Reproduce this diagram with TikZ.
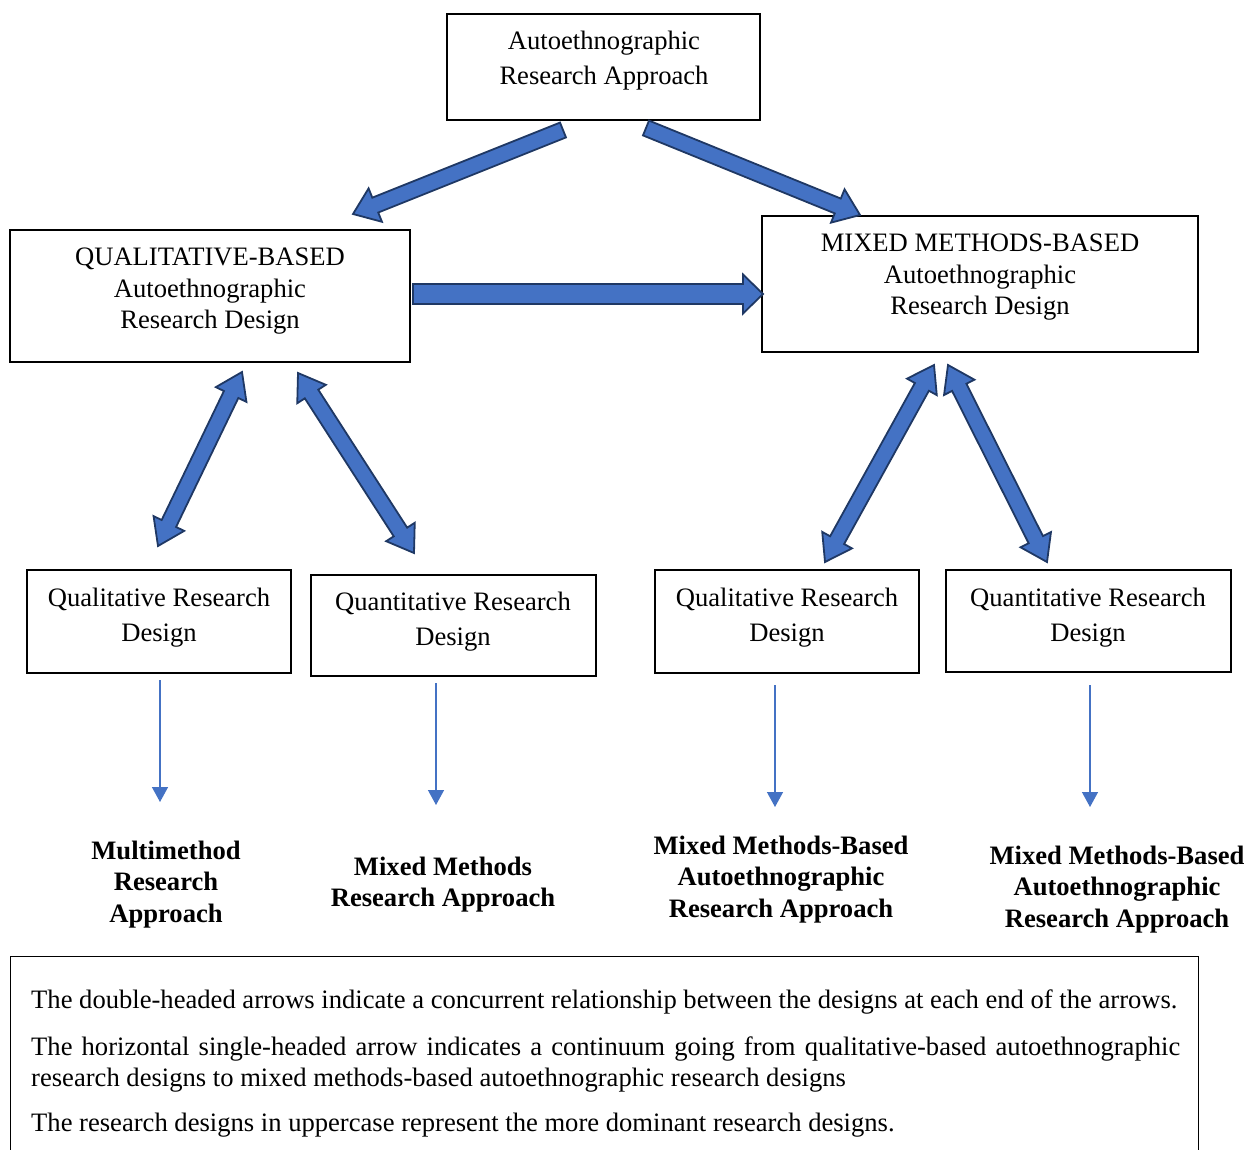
\documentclass[tikz,border=0pt]{standalone}
\usepackage{fontspec}
\setmainfont{Liberation Serif}
\usetikzlibrary{calc,arrows.meta}

\definecolor{blockfill}{RGB}{68,114,196}
\definecolor{blockedge}{RGB}{31,56,100}
\definecolor{thinblue}{RGB}{68,114,196}

\tikzset{
  box/.style={draw=black, line width=1.1pt, inner sep=0pt, fill=white},
  txt/.style={align=center, inner sep=0pt, font=\fontsize{26.6}{35}\selectfont},
  tighttxt/.style={align=center, inner sep=0pt, font=\fontsize{26.6}{31.5}\selectfont},
  boldtxt/.style={align=center, inner sep=0pt, font=\fontsize{26.6}{31.5}\selectfont\bfseries},
  legendtxt/.style={inner sep=0pt, font=\fontsize{26.6}{31}\selectfont},
  blockshape/.style={fill=blockfill, draw=blockedge, line width=1.8pt, line join=miter},
  thinarrow/.style={draw=thinblue, line width=1.4pt, -{Triangle[width=16pt,length=15pt]}},
}

% single-headed block arrow: from, to, shaft half width, head half width, head length
\newcommand{\singleblock}[5]{%
  \coordinate (hb) at ($(#2)!#5!(#1)$);
  \path[blockshape]
    ($(#1)!#3!90:(#2)$) -- ($(hb)!#3!90:(#2)$) -- ($(hb)!#4!90:(#2)$) -- (#2)
    -- ($(hb)!#4!-90:(#2)$) -- ($(hb)!#3!-90:(#2)$) -- ($(#1)!#3!-90:(#2)$) -- cycle;
}
% double-headed block arrow: end, end, shaft half width, head half width, head length
\newcommand{\doubleblock}[5]{%
  \coordinate (ha) at ($(#1)!#5!(#2)$);
  \coordinate (hb) at ($(#2)!#5!(#1)$);
  \path[blockshape]
    (#1) -- ($(ha)!#4!90:(#2)$) -- ($(ha)!#3!90:(#2)$) -- ($(hb)!#3!90:(#2)$)
    -- ($(hb)!#4!90:(#2)$) -- (#2) -- ($(hb)!#4!-90:(#2)$) -- ($(hb)!#3!-90:(#2)$)
    -- ($(ha)!#3!-90:(#2)$) -- ($(ha)!#4!-90:(#2)$) -- cycle;
}

\begin{document}
\begin{tikzpicture}[x=1pt, y=-1pt]
  \clip (0,0) rectangle (1260,1149);
  \useasboundingbox (0,0) rectangle (1260,1149);

  % boxes
  \node[box, minimum width=313pt, minimum height=106pt] (top) at (603.5,67) {};
  \node[txt] (toptext) at (604,61) {Autoethnographic\\Research Approach};

  \node[box, minimum width=400pt, minimum height=132pt] (qual) at (210,296) {};
  \node[tighttxt] (qualtext) at (210,291.5) {QUALITATIVE-BASED\\Autoethnographic\\Research Design};

  \node[box, minimum width=436pt, minimum height=136pt] (mixed) at (980,284) {};
  \node[tighttxt] (mixedtext) at (980,277.5) {MIXED METHODS-BASED\\Autoethnographic\\Research Design};

  \node[box, minimum width=264pt, minimum height=103pt] (qa) at (159,621.5) {};
  \node[txt] (qatext) at (159,618) {Qualitative Research\\Design};

  \node[box, minimum width=285pt, minimum height=101pt] (qb) at (453.5,625.5) {};
  \node[txt] (qbtext) at (453,622) {Quantitative Research\\Design};

  \node[box, minimum width=264pt, minimum height=103pt] (qc) at (787,621.5) {};
  \node[txt] (qctext) at (787,618) {Qualitative Research\\Design};

  \node[box, minimum width=285pt, minimum height=102pt] (qd) at (1088.5,621) {};
  \node[txt] (qdtext) at (1088,618) {Quantitative Research\\Design};

  % outcome labels
  \node[boldtxt] (la) at (166,884.5) {Multimethod\\Research\\Approach};
  \node[boldtxt] (lb) at (443,884.5) {Mixed Methods\\Research Approach};
  \node[boldtxt] (lc) at (781,879.5) {Mixed Methods-Based\\Autoethnographic\\Research Approach};
  \node[boldtxt] (ld) at (1117,889.5) {Mixed Methods-Based\\Autoethnographic\\Research Approach};

  % block arrows
  \coordinate (a1s) at (563,130);  \coordinate (a1e) at (353,214);
  \coordinate (a2s) at (646,128);  \coordinate (a2e) at (860,215);
  \coordinate (a3s) at (413,294);  \coordinate (a3e) at (763,294);
  \singleblock{a1s}{a1e}{8pt}{18pt}{24pt}
  \singleblock{a2s}{a2e}{8pt}{18pt}{24pt}
  \singleblock{a3s}{a3e}{10pt}{19.5pt}{20pt}

  \coordinate (d1s) at (242,372);  \coordinate (d1e) at (158,546);
  \coordinate (d2s) at (298,373);  \coordinate (d2e) at (414,553);
  \coordinate (d3s) at (934,365);  \coordinate (d3e) at (825,562);
  \coordinate (d4s) at (948,365);  \coordinate (d4e) at (1047,562);
  \doubleblock{d1s}{d1e}{8pt}{17pt}{25pt}
  \doubleblock{d2s}{d2e}{8pt}{17pt}{25pt}
  \doubleblock{d3s}{d3e}{8pt}{17pt}{25pt}
  \doubleblock{d4s}{d4e}{8pt}{17pt}{25pt}

  % thin arrows to the outcomes
  \coordinate (t1s) at (160,680);   \coordinate (t1e) at (160,802);
  \coordinate (t2s) at (436,683);   \coordinate (t2e) at (436,805);
  \coordinate (t3s) at (775,685);   \coordinate (t3e) at (775,807);
  \coordinate (t4s) at (1090,685);  \coordinate (t4e) at (1090,807);
  \draw[thinarrow] (t1s) -- (t1e);
  \draw[thinarrow] (t2s) -- (t2e);
  \draw[thinarrow] (t3s) -- (t3e);
  \draw[thinarrow] (t4s) -- (t4e);

  % legend
  \node[draw=black, line width=1.1pt, inner sep=0pt, anchor=north west,
        minimum width=1188pt, minimum height=220pt] (legend) at (10,956) {};
  \node[legendtxt, anchor=base west] (leg1) at (31,1008)
    {The double-headed arrows indicate a concurrent relationship between the designs at each end of the arrows.};
  \node[legendtxt, anchor=north west, text width=1149pt, align=justify] (leg2) at (31,1037)
    {The horizontal single-headed arrow indicates a continuum going from qualitative-based autoethnographic research designs to mixed methods-based autoethnographic research designs};
  \node[legendtxt, anchor=base west] (leg3) at (31,1131)
    {The research designs in uppercase represent the more dominant research designs.};
\end{tikzpicture}
\end{document}
